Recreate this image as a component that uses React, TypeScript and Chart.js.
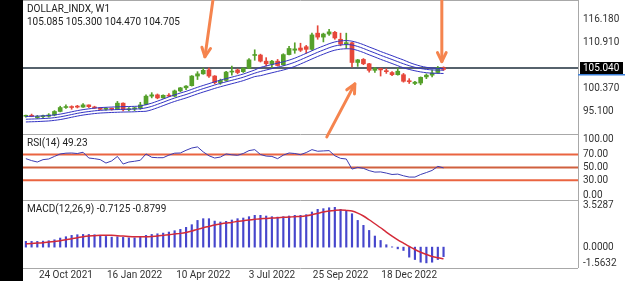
import { useEffect, useRef } from "react";
import { Chart, registerables } from "chart.js";

Chart.register(...registerables);

const title = "DOLLAR_INDX, W1";

const opens = [94.0,94.2,93.7,93.9,94.0,94.3,95.1,96.0,96.1,96.3, 96.1,96.6,96.1,95.9,95.6,95.7,95.6,97.0,95.5,95.7, 95.9,96.7,98.6,98.9,98.2,98.8,98.6,99.8,100.5,101.0, 103.2,103.7,104.6,103.2,101.7,102.2,104.1,104.6,104.2,105.0, 107.9,108.0,106.6,105.9,106.6,105.8,108.1,109.1,109.6,109.9, 109.3,113.0,112.1,112.8,113.2,111.6,110.6,110.8,106.3,107.0, 106.0,104.5,104.9,104.4,104.0,103.5,103.5,102.1,101.5,101.6, 103.0,103.4,104.0,105.085];
const highs = [94.3,94.5,94.2,94.3,94.6,95.3,96.3,96.6,96.4,96.5, 96.9,96.6,96.3,96.0,96.0,95.9,97.4,97.1,96.0,96.1, 97.2,98.9,99.4,99.1,98.9,99.2,100.0,100.6,101.0,103.3, 104.2,105.0,105.0,103.3,102.5,104.3,105.5,104.8,105.1,107.2, 109.2,108.2,107.4,106.8,107.0,108.3,110.0,110.8,110.7,110.2, 113.0,114.7,113.0,113.9,113.4,113.0,113.0,110.9,107.0,107.2, 106.1,105.2,105.0,104.9,104.2,105.0,103.8,102.6,102.0,103.0, 103.7,104.6,105.4,105.3];
const lows = [93.8,93.9,93.5,93.7,93.8,94.1,95.0,95.8,95.6,95.9, 96.0,96.0,95.8,95.5,95.4,95.4,95.5,95.2,95.2,95.3, 95.6,96.6,98.2,98.0,98.1,98.5,98.5,99.6,100.1,100.9, 102.4,103.6,102.9,101.4,101.3,102.0,103.4,103.7,104.0,104.9, 106.8,106.4,105.5,105.0,105.5,105.6,108.0,108.4,108.8,108.4, 109.1,111.6,111.0,112.5,111.6,110.1,109.5,105.3,105.4,105.8, 104.1,104.0,103.2,103.8,103.3,103.4,101.8,101.5,101.2,101.2, 102.6,103.0,103.8,104.47];
const closes = [94.1,94.0,93.9,94.0,94.3,95.1,96.0,96.1,96.0,96.1, 96.6,96.2,95.9,95.6,95.8,95.6,97.0,95.5,95.7,95.9, 96.6,98.6,98.9,98.2,98.8,98.6,99.8,100.5,100.9,103.2, 103.7,104.5,103.2,101.7,102.2,104.1,104.2,104.0,105.0,106.9, 108.0,106.6,106.0,106.6,105.6,108.1,109.5,109.4,109.1,109.3, 112.6,112.1,112.8,113.3,111.9,110.5,110.8,106.3,106.9,106.0, 104.5,104.9,104.6,104.2,103.5,104.3,102.0,101.9,101.8,102.9, 103.4,103.9,105.1,104.705];

const maUpper = [93.94,93.99,94.03,94.10,94.17,94.31,94.49,94.74,95.02,95.29, 95.52,95.70,95.86,95.98,96.05,96.11,96.16,96.21,96.23,96.27, 96.34,96.66,97.00,97.46,97.94,98.44,98.90,99.31,99.70,100.16, 100.62,101.05,101.46,101.88,102.26,102.61,102.95,103.29,103.66,104.12, 104.58,105.16,105.50,105.82,106.14,106.46,106.83,107.28,107.83,108.40, 108.98,109.55,110.07,110.58,110.99,111.22,111.31,111.17,110.83,110.37, 109.84,109.34,108.81,108.33,107.85,107.35,106.87,106.31,105.85,105.47, 105.19,105.02,104.95,104.90];
const maMiddle = [93.32,93.37,93.41,93.48,93.55,93.69,93.87,94.12,94.40,94.67, 94.90,95.08,95.24,95.36,95.43,95.49,95.54,95.59,95.61,95.65, 95.72,95.93,96.27,96.73,97.21,97.71,98.17,98.58,98.97,99.43, 99.89,100.32,100.73,101.15,101.53,101.88,102.22,102.56,102.93,103.39, 103.85,104.24,104.58,104.90,105.22,105.54,105.91,106.36,106.91,107.48, 108.06,108.63,109.15,109.66,110.07,110.30,110.39,110.30,109.96,109.50, 108.97,108.47,107.94,107.46,106.98,106.48,106.00,105.56,105.20,104.92, 104.72,104.60,104.56,104.53];
const maLower = [92.70,92.75,92.79,92.86,92.93,93.07,93.25,93.50,93.78,94.05, 94.28,94.46,94.62,94.74,94.81,94.87,94.92,94.97,94.99,95.03, 95.10,95.15,95.49,95.95,96.43,96.93,97.39,97.80,98.19,98.65, 99.11,99.54,99.95,100.37,100.75,101.10,101.44,101.78,102.15,102.61, 103.07,103.28,103.62,103.94,104.26,104.58,104.95,105.40,105.95,106.52, 107.10,107.67,108.19,108.70,109.11,109.34,109.43,109.38,109.04,108.58, 108.05,107.55,107.02,106.54,106.06,105.56,105.08,104.71,104.40,104.14, 103.96,103.85,103.81,103.78];

const rsi = [63.5,60.5,58.3,62,63,67,70.8,72,72.3,71.5, 73.4,64.5,63.5,62,56.7,60,67,55.2,58.3,59.5, 61,70.8,65.6,65,65,69,72,72.3,76.5,80, 81.7,74,68,64.5,66,70.8,69.5,68.7,71.5,76, 77.5,70,67.5,67,63.5,69,72.3,71.5,69.7,73, 77.5,75,75.5,76,68,64,63,47.4,50,48.5, 45,42.7,43,41.2,39,39.6,37,35,35,39, 42,45.3,51.6,49.23];
const macd = [0.43,0.43,0.43,0.45,0.48,0.55,0.68,0.78,0.88,0.93, 0.95,0.95,0.93,0.88,0.80,0.75,0.78,0.73,0.70,0.70, 0.75,0.88,0.95,1.00,1.05,1.13,1.23,1.33,1.48,1.68, 2.00,2.13,2.13,1.95,1.88,1.93,2.03,2.13,2.18,2.28, 2.38,2.38,2.33,2.28,2.25,2.28,2.33,2.38,2.38,2.43, 2.63,2.83,2.88,2.95,2.98,2.83,2.75,2.50,2.00,1.63, 1.25,0.83,0.50,0.18,0.02,-0.13,-0.25,-0.75,-0.93,-1.13, -1.18,-1.13,-0.93,-0.7125];
const signal = [0.25,0.28,0.30,0.33,0.38,0.43,0.48,0.55,0.63,0.70, 0.78,0.83,0.85,0.88,0.88,0.88,0.85,0.83,0.80,0.78, 0.78,0.78,0.80,0.83,0.88,0.93,0.98,1.03,1.10,1.20, 1.33,1.45,1.55,1.65,1.73,1.80,1.85,1.93,1.98,2.03, 2.08,2.13,2.15,2.18,2.20,2.23,2.25,2.28,2.30,2.35, 2.43,2.53,2.63,2.70,2.75,2.78,2.75,2.70,2.55,2.33, 2.05,1.75,1.45,1.13,0.83,0.55,0.30,0.05,-0.18,-0.38, -0.55,-0.70,-0.80,-0.8799];

const currentPrice = 105.04;
const priceTicks = [116.18, 110.91, 100.37, 95.1];
const rsiLevels = [70, 50, 30];
const rsiTicks = [100, 70, 50, 30, 0];
const macdTicks = [3.5287, 0, -1.5632];
const dateTickIdx = [7, 19, 31, 43, 55, 67];
const dateLabels = ["24 Oct 2021", "16 Jan 2022", "10 Apr 2022", "3 Jul 2022", "25 Sep 2022", "18 Dec 2022"];

// annotation arrows in (bar index, price) units
const arrows = [
  { x0: 32.7, y0: 120.6, x1: 31.3, y1: 107.6 },
  { x0: 72.7, y0: 120.6, x1: 72.7, y1: 106.5 },
  { x0: 52.6, y0: 89.3, x1: 57.5, y1: 101.4 },
];

const UP = "#55a02a";
const DOWN = "#e6473a";
const FONT = "Roboto";

function drawArrow(ctx: CanvasRenderingContext2D, x0: number, y0: number, x1: number, y1: number) {
  ctx.beginPath();
  ctx.moveTo(x0, y0);
  ctx.lineTo(x1, y1);
  ctx.stroke();
  const ang = Math.atan2(y1 - y0, x1 - x0);
  const L = 10;
  const sp = 0.45;
  ctx.beginPath();
  ctx.moveTo(x1 - L * Math.cos(ang - sp), y1 - L * Math.sin(ang - sp));
  ctx.lineTo(x1, y1);
  ctx.lineTo(x1 - L * Math.cos(ang + sp), y1 - L * Math.sin(ang + sp));
  ctx.stroke();
}

const panelPlugin = {
  id: "panels",
  beforeDraw(chart: any) {
    const { ctx, width, height, chartArea } = chart;
    ctx.save();
    ctx.fillStyle = "#ffffff";
    ctx.fillRect(0, 0, width, height);
    ctx.fillStyle = "#000000";
    ctx.fillRect(0, 0, chartArea.left, height);
    ctx.restore();
  },
  beforeDatasetsDraw(chart: any) {
    const { ctx, chartArea: a, scales } = chart;
    ctx.save();
    ctx.lineWidth = 2;
    rsiLevels.forEach((l) => {
      const y = scales.yRsi.getPixelForValue(l);
      ctx.strokeStyle = l === 50 ? "#d0603f" : "#ea6440";
      ctx.beginPath();
      ctx.moveTo(a.left, y);
      ctx.lineTo(a.right, y);
      ctx.stroke();
    });
    const yp = Math.round(scales.y.getPixelForValue(currentPrice));
    ctx.strokeStyle = "#56626c";
    ctx.lineWidth = 2;
    ctx.beginPath();
    ctx.moveTo(a.left, yp);
    ctx.lineTo(a.right, yp);
    ctx.stroke();
    ctx.restore();
  },
  afterDraw(chart: any) {
    const { ctx, chartArea: a, scales, width } = chart;
    const yS = scales.y, rS = scales.yRsi, mS = scales.yMacd;
    ctx.save();
    ctx.strokeStyle = "#a8a8a8";
    ctx.lineWidth = 1;
    const hl = (y: number) => {
      ctx.beginPath();
      ctx.moveTo(a.left, Math.round(y) + 0.5);
      ctx.lineTo(a.right, Math.round(y) + 0.5);
      ctx.stroke();
    };
    hl(a.top - 1);
    hl(rS.top);
    hl(mS.top);
    hl(a.bottom);
    ctx.beginPath();
    ctx.moveTo(Math.round(a.right) + 0.5, 0);
    ctx.lineTo(Math.round(a.right) + 0.5, a.bottom);
    ctx.stroke();

    ctx.font = `10px ${FONT}`;
    ctx.fillStyle = "#333";
    ctx.textBaseline = "middle";
    ctx.textAlign = "left";
    const lx = a.right + 5;
    priceTicks.forEach((v) => ctx.fillText(v.toFixed(3), lx, yS.getPixelForValue(v)));
    const clampL = (y: number, s: any) => Math.min(Math.max(y, s.top + 5), s.bottom - 5);
    rsiTicks.forEach((v) => ctx.fillText(v.toFixed(2), lx, clampL(rS.getPixelForValue(v), rS)));
    macdTicks.forEach((v) => ctx.fillText(v.toFixed(4), lx, clampL(mS.getPixelForValue(v), mS)));

    const yp = Math.round(yS.getPixelForValue(currentPrice));
    ctx.fillStyle = "#000";
    ctx.fillRect(a.right + 2, yp - 6, width - a.right - 4, 12);
    ctx.fillStyle = "#3b7fd8";
    ctx.fillRect(a.right, yp + 6, width - a.right, 1.5);
    ctx.fillStyle = "#fff";
    ctx.fillText(currentPrice.toFixed(3), lx, yp + 0.5);

    ctx.fillStyle = "#222";
    ctx.font = `10px ${FONT}`;
    const n = closes.length - 1;
    ctx.fillText(title, a.left + 4, a.top + 8);
    ctx.fillText([opens[n], highs[n], lows[n], closes[n]].map((v) => v.toFixed(3)).join(" "), a.left + 4, a.top + 21);
    ctx.fillText(`RSI(14) ${rsi[n].toFixed(2)}`, a.left + 4, rS.top + 9);
    ctx.fillText(`MACD(12,26,9) ${macd[n].toFixed(4)} ${signal[n].toFixed(4)}`, a.left + 4, mS.top + 9);

    ctx.strokeStyle = "#f5844e";
    ctx.lineWidth = 3;
    ctx.lineCap = "round";
    ctx.lineJoin = "round";
    arrows.forEach((ar) => {
      drawArrow(
        ctx,
        scales.x.getPixelForValue(ar.x0), yS.getPixelForValue(ar.y0),
        scales.x.getPixelForValue(ar.x1), yS.getPixelForValue(ar.y1)
      );
    });
    ctx.restore();
  },
};

export default function App() {
  const ref = useRef<HTMLCanvasElement | null>(null);
  useEffect(() => {
    if (!ref.current) return;
    const idx = closes.map((_, i) => i);
    const colors = idx.map((i) => (closes[i] >= opens[i] ? UP : DOWN));
    const xy = (arr: number[]) => arr.map((v, i) => ({ x: i, y: v }));
    const chart = new Chart(ref.current, {
      type: "bar",
      data: {
        datasets: [
          { type: "line", data: xy(maUpper), yAxisID: "y", borderColor: "#3434c4", borderWidth: 1, pointRadius: 0, tension: 0.3, order: 0 } as any,
          { type: "line", data: xy(maMiddle), yAxisID: "y", borderColor: "#3434c4", borderWidth: 1, pointRadius: 0, tension: 0.3, order: 0 } as any,
          { type: "line", data: xy(maLower), yAxisID: "y", borderColor: "#3434c4", borderWidth: 1, pointRadius: 0, tension: 0.3, order: 0 } as any,
          { type: "bar", data: idx.map((i) => ({ x: i, y: [lows[i], highs[i]] })), yAxisID: "y", backgroundColor: colors, barThickness: 1, grouped: false, order: 2 } as any,
          { type: "bar", data: idx.map((i) => ({ x: i, y: [opens[i], closes[i]] })), yAxisID: "y", backgroundColor: colors, barThickness: 4, minBarLength: 1, grouped: false, order: 1 } as any,
          { type: "line", data: xy(rsi), yAxisID: "yRsi", borderColor: "#3c3cb4", borderWidth: 1, pointRadius: 0, tension: 0, order: 0 } as any,
          { type: "bar", data: xy(macd), yAxisID: "yMacd", backgroundColor: "#4646cc", barThickness: 1.5, grouped: false, order: 1 } as any,
          { type: "line", data: xy(signal), yAxisID: "yMacd", borderColor: "#d42a38", borderWidth: 1.5, pointRadius: 0, tension: 0.3, order: 0 } as any,
        ],
      },
      options: {
        animation: false,
        responsive: false,
        events: [],
        layout: { padding: { left: 23, top: 1, right: 0, bottom: 0 } },
        plugins: { legend: { display: false }, tooltip: { enabled: false } },
        scales: {
          x: {
            type: "linear",
            min: -0.5,
            max: 96.5,
            offset: false,
            grid: { display: false, drawTicks: false },
            border: { display: false },
            afterBuildTicks: (s: any) => {
              s.ticks = dateTickIdx.map((v) => ({ value: v }));
            },
            afterFit: (s: any) => {
              s.height = 13;
            },
            ticks: {
              autoSkip: false,
              maxRotation: 0,
              padding: 1,
              color: "#333",
              font: { family: FONT, size: 10 },
              callback: (_v: any, i: number) => dateLabels[i],
            },
          },
          y: {
            type: "linear", position: "right", stack: "panels", stackWeight: 133,
            min: 89.95, max: 120.35,
            grid: { display: false }, border: { display: false }, ticks: { display: false },
            afterFit: (s: any) => { s.width = 47; },
          },
          yRsi: {
            type: "linear", position: "right", stack: "panels", stackWeight: 66,
            min: -0.5, max: 101.7,
            grid: { display: false }, border: { display: false }, ticks: { display: false },
            afterFit: (s: any) => { s.width = 47; },
          },
          yMacd: {
            type: "linear", position: "right", stack: "panels", stackWeight: 68,
            min: -1.5632, max: 3.5287,
            grid: { display: false }, border: { display: false }, ticks: { display: false },
            afterFit: (s: any) => { s.width = 47; },
          },
        } as any,
      },
      plugins: [panelPlugin],
    } as any);
    return () => chart.destroy();
  }, []);
  return (
    <div style={{ position: "fixed", left: 0, top: 0, width: 625, height: 281 }}>
      <canvas ref={ref} width={625} height={281} style={{ display: "block", width: 625, height: 281 }} />
    </div>
  );
}
